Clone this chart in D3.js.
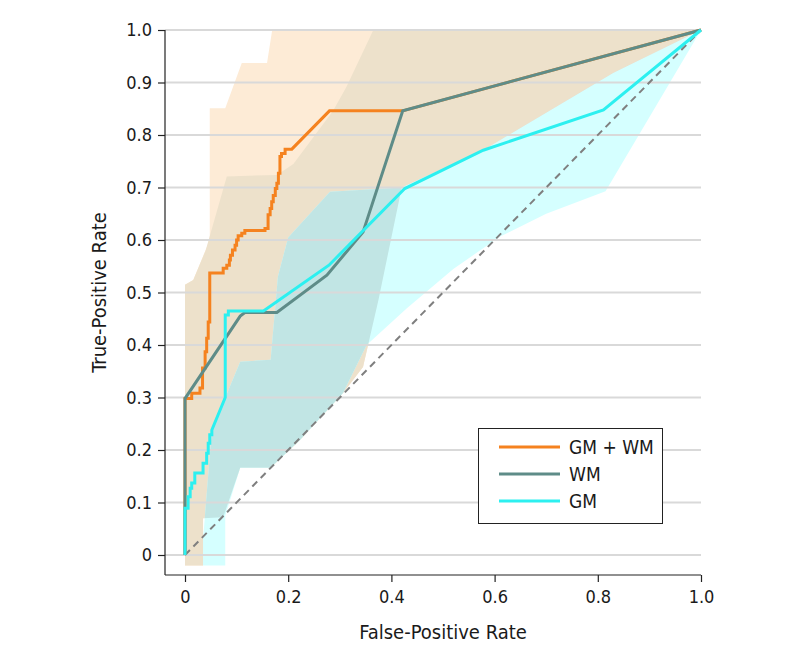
<!DOCTYPE html>
<html><head><meta charset="utf-8">
<script src="https://cdn.jsdelivr.net/npm/d3@7"></script>
<style>
html,body{margin:0;padding:0;background:#fff;}
svg text{font-family:"Liberation Sans Narrow","DejaVu Sans Condensed","Roboto","Arial Narrow",sans-serif;fill:#1a1a1a;}
</style></head><body>
<svg id="chart" width="798" height="662"></svg>
<script>
// ----- data -----
const xTicks = [0, 0.2, 0.4, 0.6, 0.8, 1.0];
const xTickLabels = ["0", "0.2", "0.4", "0.6", "0.8", "1.0"];
const yTicks = [0, 0.1, 0.2, 0.3, 0.4, 0.5, 0.6, 0.7, 0.8, 0.9, 1.0];
const yTickLabels = ["0", "0.1", "0.2", "0.3", "0.4", "0.5", "0.6", "0.7", "0.8", "0.9", "1.0"];
const seriesNames = ["GM + WM", "WM", "GM"];

const gmwmROC = [[0,0],[0,0.298],[0.013,0.298],[0.013,0.308],[0.029,0.308],[0.029,0.318],[0.034,0.318],[0.034,0.356],[0.039,0.356],[0.039,0.387],[0.042,0.387],[0.042,0.413],[0.045,0.413],[0.045,0.444],[0.048,0.444],[0.048,0.537],[0.074,0.537],[0.074,0.546],[0.081,0.546],[0.081,0.552],[0.086,0.552],[0.086,0.562],[0.088,0.562],[0.088,0.571],[0.092,0.571],[0.092,0.581],[0.097,0.581],[0.097,0.590],[0.100,0.590],[0.100,0.600],[0.103,0.600],[0.103,0.608],[0.110,0.608],[0.110,0.613],[0.116,0.613],[0.116,0.618],[0.155,0.618],[0.155,0.622],[0.161,0.622],[0.161,0.648],[0.165,0.648],[0.165,0.660],[0.168,0.660],[0.168,0.673],[0.171,0.673],[0.171,0.685],[0.175,0.685],[0.175,0.698],[0.178,0.698],[0.178,0.708],[0.181,0.708],[0.181,0.727],[0.184,0.727],[0.184,0.759],[0.187,0.759],[0.187,0.765],[0.194,0.765],[0.194,0.773],[0.207,0.773],[0.28,0.846],[0.422,0.846],[1,1]];
const wmROC = [[0,0],[0,0.298],[0.107,0.455],[0.116,0.462],[0.178,0.462],[0.275,0.533],[0.345,0.615],[0.422,0.846],[1,1]];
const gmROC = [[0,0],[0,0.089],[0.006,0.089],[0.006,0.111],[0.010,0.111],[0.010,0.127],[0.013,0.127],[0.013,0.137],[0.019,0.137],[0.019,0.156],[0.035,0.156],[0.035,0.175],[0.042,0.175],[0.042,0.194],[0.045,0.194],[0.045,0.213],[0.048,0.213],[0.048,0.229],[0.052,0.229],[0.052,0.238],[0.078,0.300],[0.078,0.457],[0.084,0.457],[0.084,0.465],[0.152,0.465],[0.279,0.552],[0.426,0.698],[0.578,0.771],[0.811,0.848],[1,1]];
const chanceLine = [[0,0],[1,1]];

// confidence bands (upper bound left->right, lower bound left->right)
const gmwmUpper = [[0,-0.02],[0,0.515],[0.016,0.524],[0.048,0.6],[0.048,0.851],[0.078,0.851],[0.11,0.937],[0.159,0.937],[0.169,1.0],[1,1]];
const gmwmLower = [[0,-0.02],[0.035,-0.02],[0.035,0.07],[0.074,0.072],[0.107,0.166],[0.166,0.166],[0.223,0.219],[0.306,0.308],[0.345,0.358],[0.375,0.486],[0.42,0.70],[0.578,0.771],[0.83,0.918],[1,1]];
const wmUpper = [[0,-0.02],[0,0.515],[0.016,0.524],[0.04,0.58],[0.081,0.721],[0.178,0.724],[0.21,0.745],[0.287,0.846],[0.313,0.892],[0.365,1.0],[1,1]];
const wmLower = [[0,-0.02],[0.035,-0.02],[0.035,0.07],[0.074,0.072],[0.107,0.166],[0.166,0.166],[0.223,0.219],[0.306,0.308],[0.345,0.358],[0.375,0.486],[0.42,0.70],[0.578,0.771],[0.83,0.918],[1,1]];
const gmUpper = [[0.035,-0.02],[0.035,0.03],[0.052,0.238],[0.107,0.368],[0.166,0.372],[0.18,0.53],[0.2,0.605],[0.281,0.692],[0.42,0.70],[0.578,0.771],[0.83,0.918],[1,1]];
const gmLower = [[0.035,-0.02],[0.078,-0.02],[0.078,0.075],[0.107,0.166],[0.166,0.166],[0.223,0.219],[0.306,0.308],[0.352,0.40],[0.43,0.47],[0.52,0.545],[0.61,0.606],[0.70,0.65],[0.815,0.693],[1,1]];

// ----- layout -----
const svg = d3.select("#chart");
const x = d3.scaleLinear().domain([0,1]).range([185,701]);
const y = d3.scaleLinear().domain([0,1]).range([555,30]);
const axisX0 = 165, axisY0 = 575;
const colors = {gmwm:"#f5821f", wm:"#5e8c88", gm:"#2cf0f0"};
const bandColors = {gmwm:"#fdebd6", wm:"#ede1cb", gm:"#d5ffff", overlap:"#c1e5e4"};

const line = d3.line().x(d=>x(d[0])).y(d=>y(d[1]));
const poly = (up, lo) => line(up.concat(lo.slice().reverse())) + "Z";

const defs = svg.append("defs");
defs.append("clipPath").attr("id","gmclip").append("path").attr("d", poly(gmUpper, gmLower));

const bands = svg.append("g");
bands.append("path").attr("d", poly(gmwmUpper, gmwmLower)).attr("fill", bandColors.gmwm);
bands.append("path").attr("d", poly(wmUpper, wmLower)).attr("fill", bandColors.wm);
bands.append("path").attr("d", poly(gmUpper, gmLower)).attr("fill", bandColors.gm);
bands.append("path").attr("d", poly(wmUpper, wmLower)).attr("fill", bandColors.overlap).attr("clip-path","url(#gmclip)");

// gridlines
svg.append("g").selectAll("line").data(yTicks).join("line")
  .attr("x1", axisX0).attr("x2", x(1))
  .attr("y1", d=>y(d)).attr("y2", d=>y(d))
  .attr("stroke", "#d9d9d9").attr("stroke-width", 1.8);

// axes
const yAxis = d3.axisLeft(y).tickValues(yTicks).tickFormat((d,i)=>yTickLabels[i]).tickSize(7).tickPadding(6);
const gy = svg.append("g").attr("transform", `translate(${axisX0},0)`).call(yAxis);
const xAxis = d3.axisBottom(x).tickValues(xTicks).tickFormat((d,i)=>xTickLabels[i]).tickSize(7).tickPadding(8);
const gx = svg.append("g").attr("transform", `translate(0,${axisY0})`).call(xAxis);
[gy,gx].forEach(g=>{
  g.select(".domain").remove();
  g.selectAll(".tick line").attr("stroke","#222").attr("stroke-width",1.2);
  g.selectAll(".tick text").style("font-size","18px").attr("fill","#1a1a1a");
});
svg.append("line").attr("x1",axisX0).attr("x2",axisX0).attr("y1",y(1)).attr("y2",axisY0).attr("stroke","#222").attr("stroke-width",1.2);
svg.append("line").attr("x1",axisX0).attr("x2",x(1)).attr("y1",axisY0).attr("y2",axisY0).attr("stroke","#222").attr("stroke-width",1.2);

svg.append("text").attr("x", (x(0)+x(1))/2).attr("y", 639).attr("text-anchor","middle")
  .style("font-size","20px").text("False-Positive Rate");
svg.append("text").attr("transform", `translate(106,${(y(0)+y(1))/2}) rotate(-90)`).attr("text-anchor","middle")
  .style("font-size","20px").text("True-Positive Rate");

// chance line
svg.append("path").attr("d", line(chanceLine)).attr("fill","none").attr("stroke","#7f7f7f")
  .attr("stroke-width",2).attr("stroke-dasharray","7,5");

// ROC curves
const curves = [[gmwmROC, colors.gmwm],[wmROC, colors.wm],[gmROC, colors.gm]];
curves.forEach(([d,c])=>{
  svg.append("path").attr("d", line(d)).attr("fill","none").attr("stroke",c)
    .attr("stroke-width",3).attr("stroke-linejoin","miter");
});

// legend
const lg = svg.append("g");
lg.append("rect").attr("x",478.5).attr("y",428.5).attr("width",184).attr("height",95)
  .attr("fill","#fff").attr("stroke","#222").attr("stroke-width",1);
const legColors = [colors.gmwm, colors.wm, colors.gm];
seriesNames.forEach((n,i)=>{
  const yy = 447 + i*27;
  lg.append("line").attr("x1",499).attr("x2",560).attr("y1",yy).attr("y2",yy)
    .attr("stroke",legColors[i]).attr("stroke-width",3);
  lg.append("text").attr("x",569).attr("y",yy).attr("dy","0.35em").style("font-size","19px").text(n);
});
</script>
</body></html>
